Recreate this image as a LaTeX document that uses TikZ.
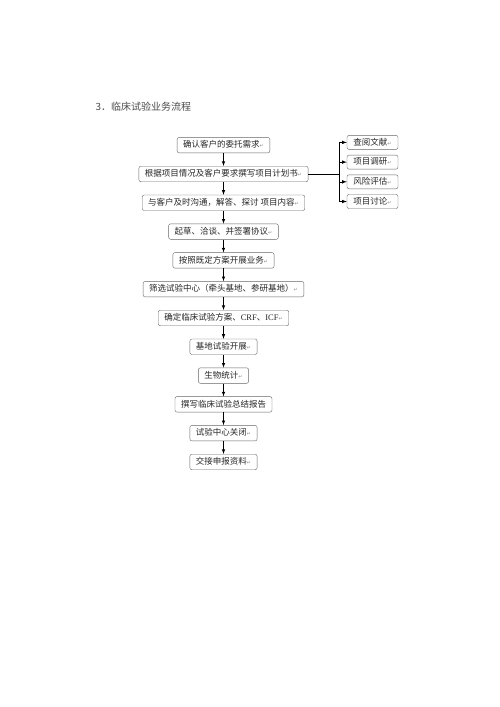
\documentclass[tikz,border=0pt]{standalone}
\usepackage{fontspec}
\setmainfont{Liberation Serif}
\newfontfamily\cjk{Noto Sans CJK SC}
\newfontfamily\symf{DejaVu Sans}
\usetikzlibrary{matrix,arrows,positioning}
\newcommand{\boxh}{15.5pt}
\newcommand{\pmk}{{\symf\fontsize{5}{5}\selectfont\color{black!45}↵}}
\tikzset{
    stepsty/.style={draw=black!60,fill=white,rounded corners=2pt,minimum height=\boxh,inner xsep=6pt,inner ysep=0pt,text height=7pt,text depth=1.5pt,font={\cjk\fontsize{8.5}{8.5}\selectfont},text=black!85,anchor=center},
    sidesty/.style={stepsty,minimum width=51pt,minimum height=14pt,inner xsep=3pt},
    titlesty/.style={font={\cjk\fontsize{10}{10}\selectfont},text=black!70,anchor=west},
    linksty/.style={->,line width=0.6pt},
}

\begin{document}
\begin{tikzpicture}[>=latex, x=1pt, y=-1pt]
\useasboundingbox[fill=white] (0,0) rectangle (500,707);
\node[titlesty] (title) at (92,107) {3．临床试验业务流程};
\matrix (flow) [matrix of nodes,
  nodes = {stepsty},
  row sep = 12.9pt,
  inner sep = 0pt,
  anchor = north,
  ampersand replacement=\&] at (223.5,137)
{
确认客户的委托需求\pmk \\
根据项目情况及客户要求撰写项目计划书\pmk \\
与客户及时沟通，解答、探讨 项目内容\pmk \\
起草、洽谈、并签署协议\pmk \\
按照既定方案开展业务\pmk \\
筛选试验中心（牵头基地、参研基地）\pmk \\
确定临床试验方案、{\rmfamily CRF}、{\rmfamily ICF}\pmk \\
基地试验开展\pmk \\
生物统计\pmk \\
撰写临床试验总结报告 \\
试验中心关闭\pmk \\
交接申报资料\pmk \\
};
\matrix (side) [matrix of nodes,
  nodes = {sidesty},
  row sep = 5.3pt,
  inner sep = 0pt,
  anchor = north,
  ampersand replacement=\&] at (372.5,135)
{
查阅文献\pmk \\
项目调研\pmk \\
风险评估\pmk \\
项目讨论\pmk \\
};
\coordinate (bus) at (339,171);
% main flow
\foreach \i [count=\j from 2] in {1,...,11}
  \draw[linksty] (flow-\i-1) -- (flow-\j-1);
% branch to the right
\draw[line width=0.6pt] (flow-2-1.east) -- (bus |- flow-2-1);
\draw[line width=0.6pt] (bus |- side-1-1) -- (bus |- side-4-1);
\foreach \i in {1,...,4}
  \draw[linksty] (bus |- side-\i-1) -- (side-\i-1.west);
\end{tikzpicture}
\end{document}
